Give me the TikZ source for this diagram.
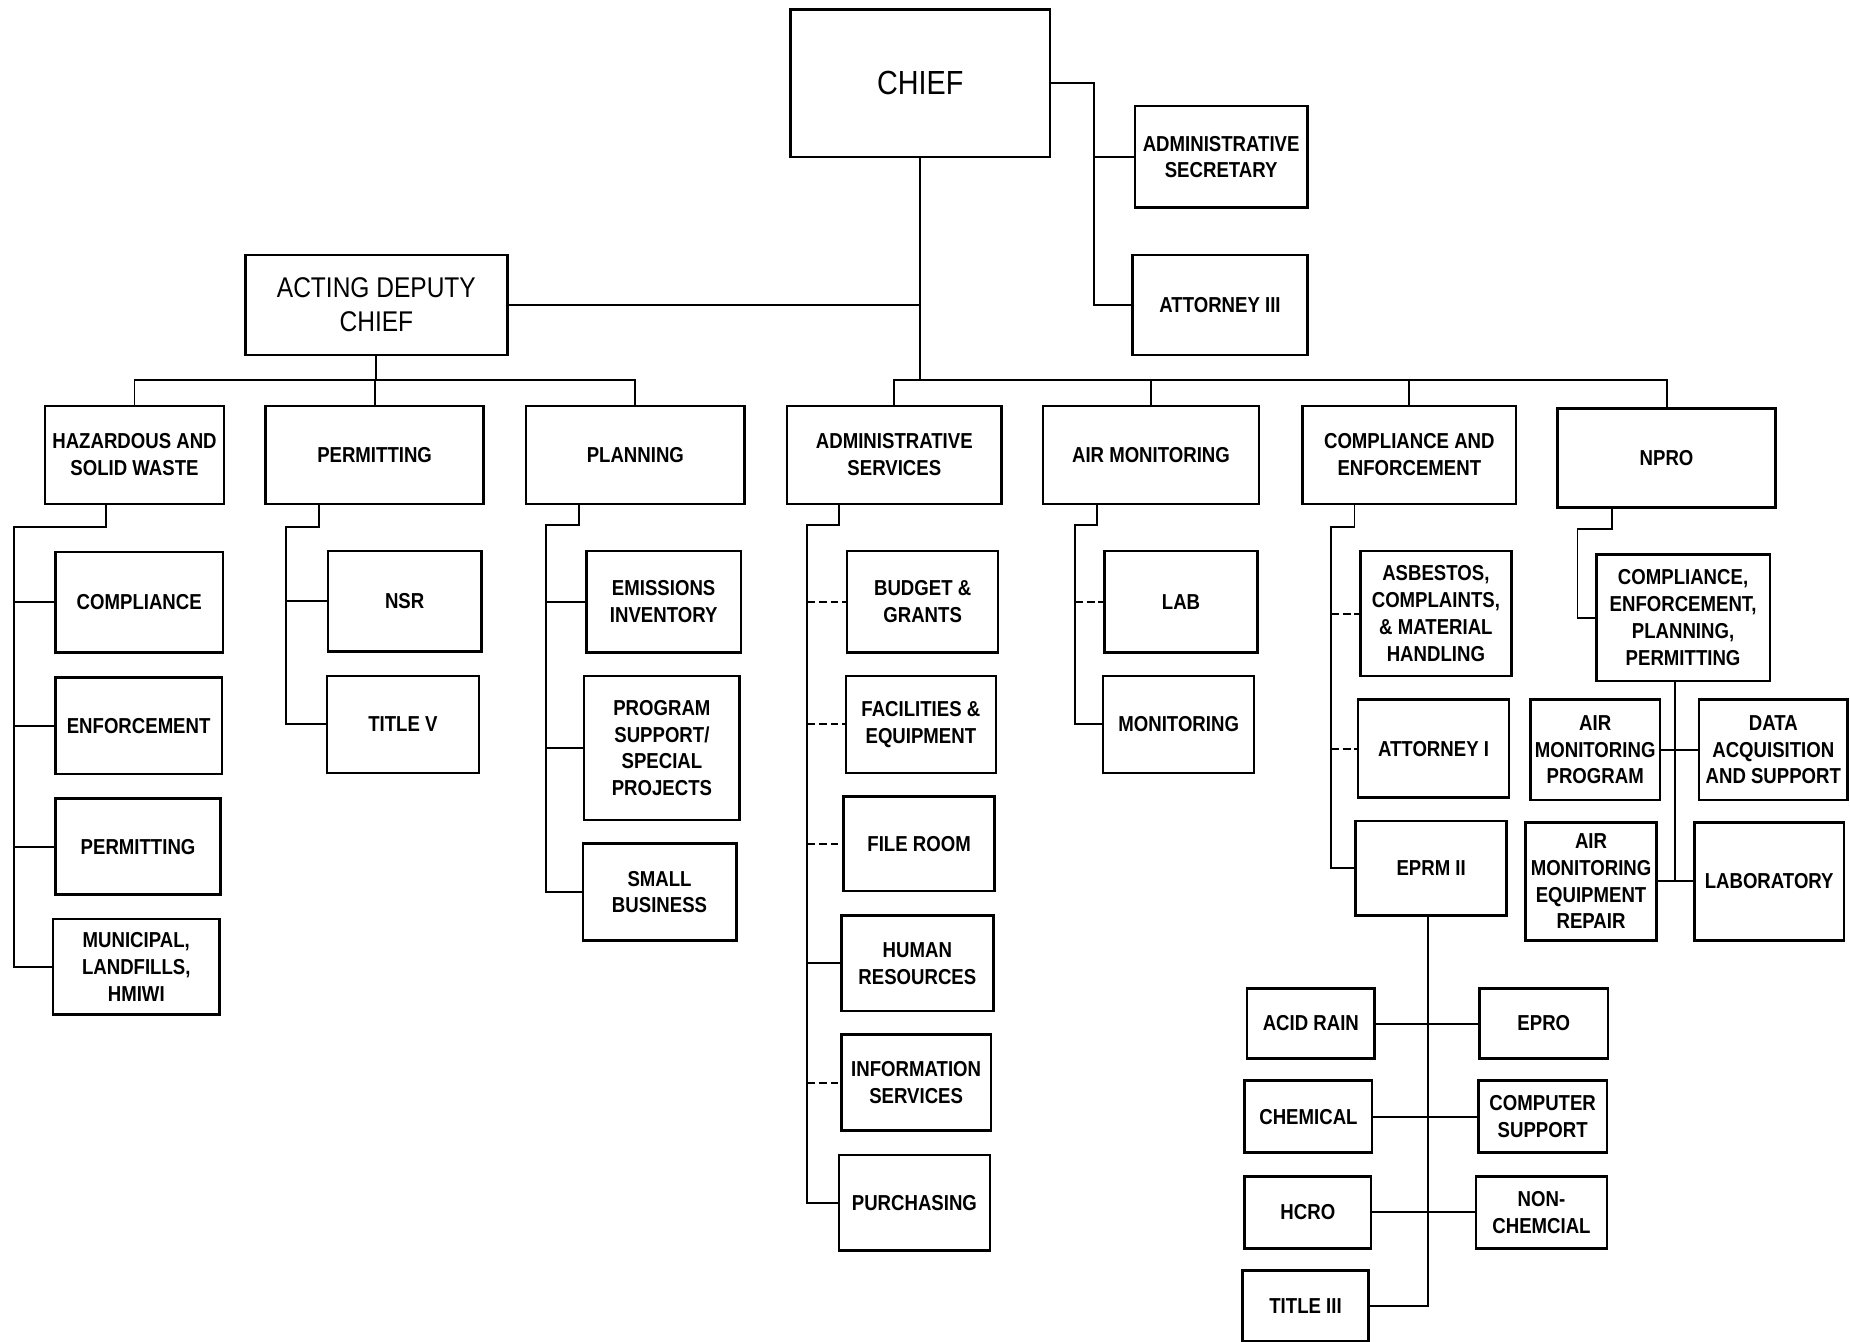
\documentclass[tikz,border=0pt]{standalone}
\usepackage{fontspec}
\setmainfont{Liberation Sans}[FakeStretch=0.86]
\newcommand\obox[7][]{\node[box,#1,minimum width={(#5-#3)*0.6pt},minimum height={(#6-#4)*0.6pt}] (#2) at ({(#3+#5)/2},{(#4+#6)/2}) {#7};}
\begin{document}
\begin{tikzpicture}[x=0.6pt,y=-0.6pt,
  box/.style={draw,line width=1.3pt,inner sep=1pt,align=center,font=\fontsize{11}{13.6}\selectfont\bfseries},
  big/.style={font=\fontsize{17}{20}\selectfont},
  mid/.style={font=\fontsize{14.5}{17.4}\selectfont},
  conn/.style={line width=1pt},
  dconn/.style={line width=1pt,dash pattern=on 4pt off 2pt}]
\useasboundingbox (0,0) rectangle (1568,1137);
\fill[white] (0,0) rectangle (1568,1137);
% top
\obox[big]{chief}{670}{8}{890}{133}{CHIEF}
\obox{admsec}{962}{90}{1108}{176}{ADMINISTRATIVE\\SECRETARY}
\obox{att3}{960}{216}{1108}{301}{ATTORNEY III}
\obox[mid]{deputy}{208}{216}{430}{301}{ACTING DEPUTY\\CHIEF}
% level 2
\obox{haz}{38}{344}{190}{427}{HAZARDOUS AND\\SOLID WASTE}
\obox{permit}{225}{344}{410}{427}{PERMITTING}
\obox{plan}{446}{344}{631}{427}{PLANNING}
\obox{admsvc}{667}{344}{849}{427}{ADMINISTRATIVE\\SERVICES}
\obox{airmon}{884}{344}{1067}{427}{AIR MONITORING}
\obox{ce}{1104}{344}{1285}{427}{COMPLIANCE AND\\ENFORCEMENT}
\obox{npro}{1320}{346}{1505}{430}{NPRO}
% hazardous
\obox{hcomp}{47}{468}{189}{553}{COMPLIANCE}
\obox{henf}{47}{574}{188}{656}{ENFORCEMENT}
\obox{hperm}{47}{677}{187}{758}{PERMITTING}
\obox{munic}{45}{779}{186}{860}{MUNICIPAL,\\LANDFILLS,\\HMIWI}
% permitting
\obox{nsr}{278}{467}{408}{552}{NSR}
\obox{titlev}{277}{573}{406}{655}{TITLE V}
% planning
\obox{emis}{497}{467}{628}{553}{EMISSIONS\\INVENTORY}
\obox{progsup}{495}{573}{627}{695}{PROGRAM\\SUPPORT/\\SPECIAL\\PROJECTS}
\obox{smallbiz}{494}{715}{624}{797}{SMALL\\BUSINESS}
% admin services
\obox{budget}{718}{467}{846}{553}{BUDGET \&\\GRANTS}
\obox{facil}{717}{573}{844}{655}{FACILITIES \&\\EQUIPMENT}
\obox{fileroom}{715}{675}{843}{755}{FILE ROOM}
\obox{humres}{713}{776}{842}{857}{HUMAN\\RESOURCES}
\obox{infos}{713}{877}{840}{958}{INFORMATION\\SERVICES}
\obox{purch}{711}{979}{839}{1060}{PURCHASING}
% air monitoring
\obox{lab}{936}{467}{1066}{553}{LAB}
\obox{monit}{935}{573}{1063}{655}{MONITORING}
% compliance and enforcement
\obox{asb}{1153}{467}{1281}{573}{ASBESTOS,\\COMPLAINTS,\\\& MATERIAL\\HANDLING}
\obox{att1}{1151}{593}{1279}{676}{ATTORNEY I}
\obox{eprm}{1149}{696}{1277}{776}{EPRM II}
\obox{acid}{1057}{838}{1165}{897}{ACID RAIN}
\obox{epro}{1254}{838}{1363}{897}{EPRO}
\obox{chem}{1055}{916}{1163}{977}{CHEMICAL}
\obox{comp}{1253}{916}{1362}{977}{COMPUTER\\SUPPORT}
\obox{hcro}{1055}{997}{1162}{1058}{HCRO}
\obox{nonchem}{1251}{997}{1362}{1058}{NON-\\CHEMCIAL}
\obox{title3}{1053}{1077}{1160}{1137}{TITLE III}
% npro
\obox{cepp}{1353}{470}{1500}{577}{COMPLIANCE,\\ENFORCEMENT,\\PLANNING,\\PERMITTING}
\obox{amp}{1297}{593}{1407}{678}{AIR\\MONITORING\\PROGRAM}
\obox{daq}{1440}{593}{1566}{678}{DATA\\ACQUISITION\\AND SUPPORT}
\obox{amer}{1293}{697}{1404}{797}{AIR\\MONITORING\\EQUIPMENT\\REPAIR}
\obox{lab2}{1436}{697}{1563}{797}{LABORATORY}
% chief connectors
\coordinate (cbar) at (780,322);
\draw[conn] (chief.south) -- (cbar);
\draw[conn] (deputy.east) -- (deputy.east -| chief.south);
\coordinate (csp) at (927,0);
\draw[conn] (chief.east) -- (chief.east -| csp) -- (csp |- att3.west) -- (att3.west);
\draw[conn] (csp |- admsec.west) -- (admsec.west);
\draw[conn] (admsvc.north) -- (admsvc.north |- cbar) -- (npro.north |- cbar) -- (npro.north);
\draw[conn] (airmon.north) -- (airmon.north |- cbar);
\draw[conn] (ce.north) -- (ce.north |- cbar);
% deputy connectors
\coordinate (dbar) at (318,322);
\draw[conn] (deputy.south) -- (deputy.south |- dbar);
\draw[conn] (haz.north) -- (haz.north |- dbar) -- (plan.north |- dbar) -- (plan.north);
\draw[conn] (permit.north) -- (permit.north |- dbar);
% hazardous
\coordinate (hzA) at (90,447); \coordinate (hzB) at (12,447);
\draw[conn] (haz.south -| hzA) -- (hzA) -- (hzB) -- (hzB |- munic.west) -- (munic.west);
\draw[conn] (hzB |- hcomp.west) -- (hcomp.west);
\draw[conn] (hzB |- henf.west) -- (henf.west);
\draw[conn] (hzB |- hperm.west) -- (hperm.west);
% permitting
\coordinate (pmA) at (270,447); \coordinate (pmB) at (242,447);
\draw[conn] (permit.south -| pmA) -- (pmA) -- (pmB) -- (pmB |- titlev.west) -- (titlev.west);
\draw[conn] (pmB |- nsr.west) -- (nsr.west);
% planning
\coordinate (plA) at (491,445); \coordinate (plB) at (463,445);
\draw[conn] (plan.south -| plA) -- (plA) -- (plB) -- (plB |- smallbiz.west) -- (smallbiz.west);
\draw[conn] (plB |- emis.west) -- (emis.west);
\draw[conn] (plB |- progsup.west) -- (progsup.west);
% admin services
\coordinate (asA) at (711,445); \coordinate (asB) at (684,445);
\draw[conn] (admsvc.south -| asA) -- (asA) -- (asB) -- (asB |- purch.west) -- (purch.west);
\draw[dconn] (asB |- budget.west) -- (budget.west);
\draw[dconn] (asB |- facil.west) -- (facil.west);
\draw[dconn] (asB |- fileroom.west) -- (fileroom.west);
\draw[conn] (asB |- humres.west) -- (humres.west);
\draw[dconn] (asB |- infos.west) -- (infos.west);
% air monitoring
\coordinate (amA) at (930,445); \coordinate (amB) at (911,445);
\draw[conn] (airmon.south -| amA) -- (amA) -- (amB) -- (amB |- monit.west) -- (monit.west);
\draw[dconn] (amB |- lab.west) -- (lab.west);
% compliance and enforcement
\coordinate (ceA) at (1148,447); \coordinate (ceB) at (1128,447);
\draw[conn] (ce.south -| ceA) -- (ceA) -- (ceB) -- (ceB |- eprm.west) -- (eprm.west);
\draw[dconn] (ceB |- asb.west) -- (asb.west);
\draw[dconn] (ceB |- att1.west) -- (att1.west);
% eprm
\coordinate (ep) at (1210,0);
\draw[conn] (eprm.south -| ep) -- (ep |- title3.east) -- (title3.east);
\draw[conn] (acid.east) -- (epro.west);
\draw[conn] (chem.east) -- (comp.west);
\draw[conn] (hcro.east) -- (nonchem.west);
% npro
\coordinate (npA) at (1366,448); \coordinate (npB) at (1337,448);
\draw[conn] (npro.south -| npA) -- (npA) -- (npB) -- (npB |- cepp.west) -- (cepp.west);
\coordinate (nv) at (1420,0);
\draw[conn] (cepp.south -| nv) -- (nv |- lab2.west);
\draw[conn] (amp.east) -- (daq.west);
\draw[conn] (amer.east) -- (lab2.west);
\end{tikzpicture}
\end{document}
